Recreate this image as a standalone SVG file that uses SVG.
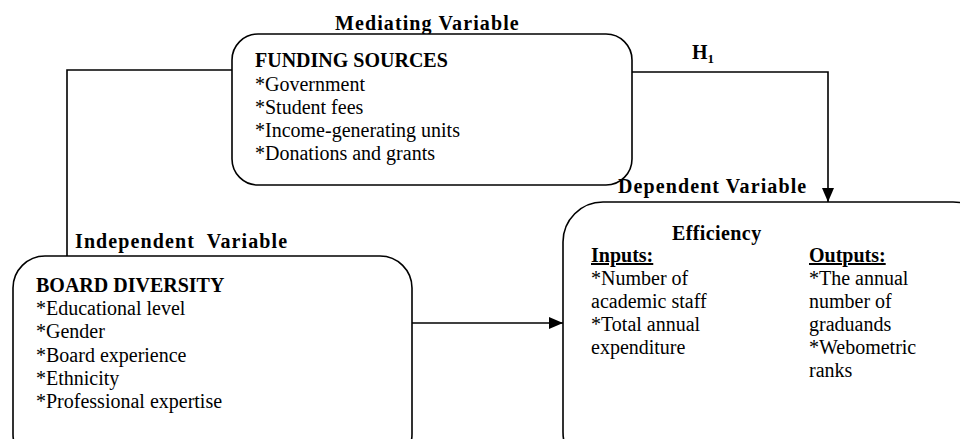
<svg xmlns="http://www.w3.org/2000/svg" width="960" height="439" viewBox="0 0 960 439">
<defs>
<marker id="arr" markerWidth="14" markerHeight="12" refX="14" refY="6" orient="auto" markerUnits="userSpaceOnUse" viewBox="0 0 14 12">
<path d="M0,0 L14,6 L0,12 z" fill="#000"/>
</marker>
<style>
text{font-family:"Liberation Serif","Times New Roman",serif;fill:#000}
.t{font-size:20px}
.b{font-size:20px;font-weight:bold;letter-spacing:1.1px}
.h{font-size:20px;font-weight:bold}
.box{fill:#fff;stroke:#000;stroke-width:1.6}
.ln{fill:none;stroke:#000;stroke-width:1.6}
</style>
</defs>
<rect width="960" height="439" fill="#fff"/>
<g id="connectors">
<polyline class="ln" points="232,70 67,70 67,256"/>
<polyline class="ln" points="632,72 828,72 828,202" marker-end="url(#arr)"/>
<line class="ln" x1="412" y1="323" x2="563" y2="323" marker-end="url(#arr)"/>
<text class="h" x="692" y="59">H<tspan font-size="13" dy="4">1</tspan></text>
</g>
<g id="funding">
<text class="b" x="335" y="30">Mediating Variable</text>
<rect class="box" x="232" y="34" width="400" height="151" rx="26"/>
<text class="h" x="255" y="67">FUNDING SOURCES</text>
<text class="t" x="255" y="91">*Government</text>
<text class="t" x="255" y="114">*Student fees</text>
<text class="t" x="255" y="137">*Income-generating units</text>
<text class="t" x="255" y="160">*Donations and grants</text>
</g>
<g id="board">
<text class="b" x="75" y="248" xml:space="preserve">Independent  Variable</text>
<rect class="box" x="13" y="256" width="399" height="210" rx="32"/>
<text class="h" x="36" y="292">BOARD DIVERSITY</text>
<text class="t" x="36" y="315">*Educational level</text>
<text class="t" x="36" y="338">*Gender</text>
<text class="t" x="36" y="362">*Board experience</text>
<text class="t" x="36" y="385">*Ethnicity</text>
<text class="t" x="36" y="408">*Professional expertise</text>
</g>
<g id="efficiency">
<text class="b" x="618" y="193">Dependent Variable</text>
<rect class="box" x="563" y="202" width="430" height="270" rx="40"/>
<text class="h" x="672" y="240" letter-spacing="0.4">Efficiency</text>
<text class="h" x="591" y="262" text-decoration="underline">Inputs:</text>
<text class="t" x="591" y="285">*Number of</text>
<text class="t" x="591" y="308">academic staff</text>
<text class="t" x="591" y="331">*Total annual</text>
<text class="t" x="591" y="354">expenditure</text>
<text class="h" x="809" y="262" text-decoration="underline">Outputs:</text>
<text class="t" x="809" y="285">*The annual</text>
<text class="t" x="809" y="308">number of</text>
<text class="t" x="809" y="331">graduands</text>
<text class="t" x="809" y="354">*Webometric</text>
<text class="t" x="809" y="377">ranks</text>
</g>
</svg>
